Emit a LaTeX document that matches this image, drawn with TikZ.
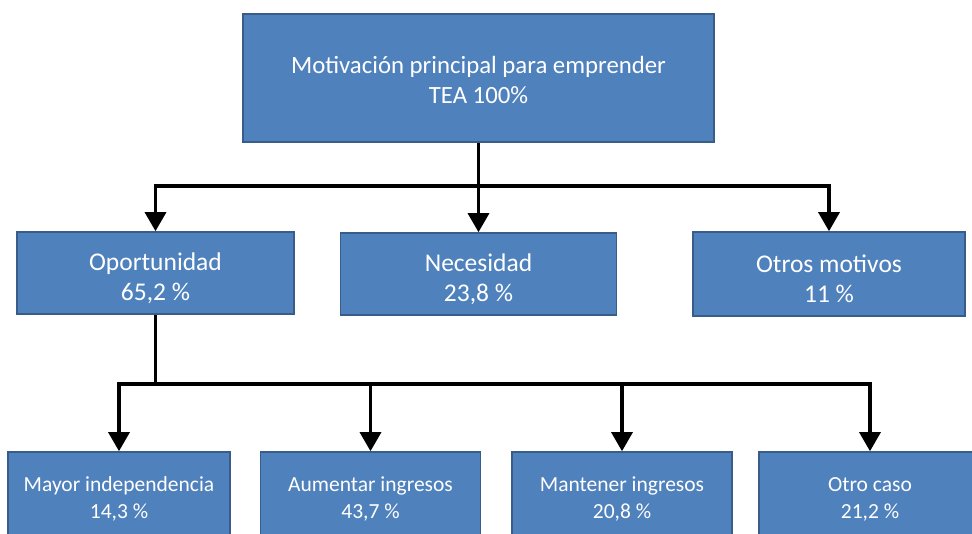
\documentclass[tikz,border=0pt]{standalone}
\usepackage{fontspec}
\setmainfont{Carlito}
\usetikzlibrary{arrows.meta}
\definecolor{boxfill}{HTML}{4F81BD}
\definecolor{boxline}{HTML}{385D8A}
\newcommand{\dropstrut}{\rule{0pt}{28pt}}
\tikzset{
  box/.style={draw=boxline, line width=1.6pt, fill=boxfill, text=white, align=center, inner sep=0pt},
  bigtext/.style={font=\fontsize{24.8}{30}\selectfont},
  midtext/.style={font=\fontsize{25.5}{30}\selectfont},
  smalltext/.style={font=\fontsize{21.5}{27}\selectfont},
  conn/.style={line width=3.2pt, black},
  arr/.style={conn, -{Triangle[length=19pt,width=21pt]}},
}
\begin{document}
\begin{tikzpicture}[x=1pt,y=-1pt]
\useasboundingbox (0,0) rectangle (972,534);
\clip (0,0) rectangle (972,534);
\node[box, bigtext, minimum width=471pt, minimum height=128pt] (top) at (478.5,78) {\rule{0pt}{22pt}Motivación principal para emprender\\TEA 100\%};
\node[box, midtext, minimum width=277pt, minimum height=82pt] (opp) at (155.5,273) {\dropstrut Oportunidad\\65,2 \%};
\node[box, midtext, minimum width=276pt, minimum height=82pt] (nec) at (478.5,274) {\dropstrut Necesidad\\23,8 \%};
\node[box, midtext, minimum width=272pt, minimum height=84pt] (otros) at (829,274) {\dropstrut Otros motivos\\11 \%};
\node[box, smalltext, minimum width=222pt, minimum height=94pt] (mayor) at (119,499) {Mayor independencia\\14,3 \%};
\node[box, smalltext, minimum width=220pt, minimum height=94pt] (aum) at (370.5,499) {Aumentar ingresos\\43,7 \%};
\node[box, smalltext, minimum width=220pt, minimum height=94pt] (mant) at (622,499) {Mantener ingresos\\20,8 \%};
\node[box, smalltext, minimum width=222pt, minimum height=94pt] (otro) at (870,499) {Otro caso\\21,2 \%};
\coordinate (j1) at (478.5,186);
\coordinate (j2) at (155.5,384);
\draw[conn] (top.south) -- (j1);
\draw[arr] (j1) -| (opp.north);
\draw[arr] (j1) -- (nec.north);
\draw[arr] (j1) -| (otros.north);
\draw[conn] (opp.south) -- (j2);
\draw[arr] (j2) -| (mayor.north);
\draw[arr] (j2) -| (aum.north);
\draw[arr] (j2) -| (mant.north);
\draw[arr] (j2) -| (otro.north);
\end{tikzpicture}
\end{document}
